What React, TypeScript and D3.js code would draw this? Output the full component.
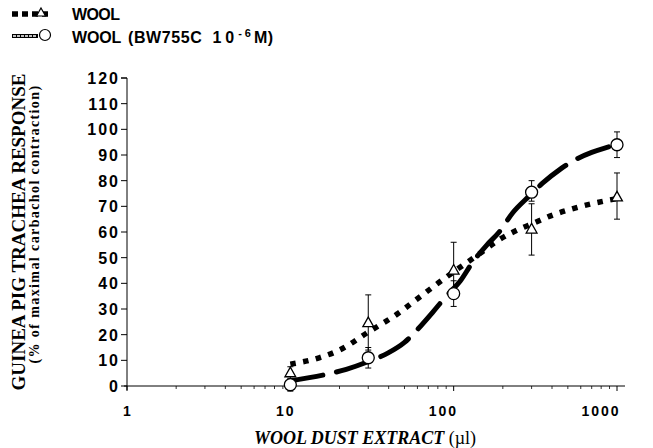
import React from "react";
import * as d3 from "d3";

const doses = [10, 30, 100, 300, 1000];
const woolMean = [5, 24.5, 45, 61, 73.5];
const woolHi = [7.5, 35.5, 56, 71, 83];
const woolLo = [1.5, 14, 35, 51, 65];
const bwMean = [0.5, 11, 36, 75.5, 94];
const bwHi = [3, 15, 41, 80, 99];
const bwLo = [-2, 7, 31, 72, 89];

// fitted curves
const woolFitX = [10, 15, 20, 30, 45, 60, 80, 100, 140, 190, 250, 310, 400, 530, 700, 1000];
const woolFitY = [8.5, 11, 14, 21, 28, 34, 40, 44.5, 51, 57, 61, 63.5, 66.5, 69, 71, 73];
const bwFitX = [10, 16, 22, 30, 40, 50, 60, 75, 90, 110, 130, 160, 190, 230, 290, 350, 450, 550, 700, 850, 1000];
const bwFitY = [2, 4.3, 6.5, 9.5, 13, 17, 22, 29, 35, 41, 48, 55, 60, 67.5, 74, 79, 84.5, 88, 91, 92.8, 94];

const yTicks = [0, 10, 20, 30, 40, 50, 60, 70, 80, 90, 100, 110, 120];
const xTicks = [1, 10, 100, 1000];

export default function App() {
  const W = 653, H = 448;
  const x = d3.scaleLog().domain([1, 1000]).range([127, 617]);
  // tick labels in the original sit on a slightly narrower spacing
  const xLab = d3.scaleLog().domain([1, 1000]).range([127, 600]);
  const y = d3.scaleLinear().domain([0, 120]).range([386, 78]);
  const line = d3.line<[number, number]>().x(d => x(d[0])).y(d => y(d[1])).curve(d3.curveMonotoneX);
  const woolPath = line(woolFitX.map((v, i) => [v, woolFitY[i]]) as [number, number][]) || "";
  const bwPath = line(bwFitX.map((v, i) => [v, bwFitY[i]]) as [number, number][]) || "";

  const minor: number[] = [];
  for (let d = 1; d <= 100; d *= 10) for (let k = 2; k <= 9; k++) minor.push(d * k);

  const tickFont = "'Liberation Sans', Arial, sans-serif";
  const serif = "'Liberation Serif', 'Times New Roman', serif";

  const triangle = (cx: number, cy: number, s = 6) =>
    `M${cx},${cy - s} L${cx + s * 0.9},${cy + s * 0.6} L${cx - s * 0.9},${cy + s * 0.6} Z`;

  const errBar = (xi: number, lo: number, hi: number, key: string) => (
    <g key={key} stroke="#000" strokeWidth={1}>
      <line x1={x(xi)} x2={x(xi)} y1={y(lo)} y2={y(hi)} />
      <line x1={x(xi) - 3} x2={x(xi) + 3} y1={y(lo)} y2={y(lo)} />
      <line x1={x(xi) - 3} x2={x(xi) + 3} y1={y(hi)} y2={y(hi)} />
    </g>
  );

  return (
    <svg width={W} height={H} style={{ position: "absolute", left: 0, top: 0, background: "#fff" }}>
      <rect width={W} height={H} fill="#fff" />
      {/* legend */}
      <g>
        <line x1={12} x2={52} y1={14} y2={14} stroke="#000" strokeWidth={5.5} strokeDasharray="6 4" />
        <path d={triangle(41, 13, 5)} fill="#fff" stroke="#000" strokeWidth={1.2} />
        <text x={72} y={20} fontFamily={tickFont} fontWeight="bold" fontSize={16} letterSpacing={-0.6}>WOOL</text>
        <line x1={12} x2={38} y1={36} y2={36} stroke="#000" strokeWidth={4} />
        <line x1={13} x2={37} y1={36} y2={36} stroke="#fff" strokeWidth={1.5} strokeDasharray="3 1" />
        <circle cx={45} cy={35} r={5.5} fill="#fff" stroke="#000" strokeWidth={1.2} />
        <text x={72} y={43} fontFamily={tickFont} fontWeight="bold" fontSize={16} letterSpacing={-0.2}>
          WOOL<tspan dx={7} letterSpacing={0.6}>(BW755C</tspan><tspan dx={10} letterSpacing={4}>10</tspan><tspan dy={-6} fontSize={11} letterSpacing={3}>-6</tspan><tspan dy={6} letterSpacing={0.5}>M)</tspan>
        </text>
      </g>

      {/* axes */}
      <line x1={127} x2={127} y1={78} y2={390} stroke="#000" strokeWidth={1} />
      <line x1={121} x2={127} y1={78} y2={78} stroke="#000" />
      <line x1={124} x2={625} y1={386} y2={386} stroke="#000" strokeWidth={1} />
      {yTicks.map(t => (
        <g key={"y" + t}>
          <line x1={121} x2={127} y1={y(t)} y2={y(t)} stroke="#000" />
          <text x={120} y={y(t) + 6} textAnchor="end" fontFamily={tickFont} fontWeight="bold" fontSize={16} letterSpacing={2}>{t}</text>
        </g>
      ))}
      {minor.map(t => (
        <line key={"m" + t} x1={x(t)} x2={x(t)} y1={386} y2={389} stroke="#000" strokeWidth={0.8} />
      ))}
      {xTicks.map(t => (
        <g key={"x" + t}>
          <line x1={x(t)} x2={x(t)} y1={386} y2={391} stroke="#000" />
          <text x={xLab(t) + 1} y={416} textAnchor="middle" fontFamily={tickFont} fontWeight="bold" fontSize={14} letterSpacing={2}>{t}</text>
        </g>
      ))}

      {/* axis titles */}
      <text transform="translate(25,232) rotate(-90)" textAnchor="middle" fontFamily={serif} fontWeight="bold" fontSize={19}>
        GUINEA PIG TRACHEA RESPONSE
      </text>
      <text transform="translate(39,224) rotate(-90)" textAnchor="middle" fontFamily={serif} fontWeight="bold" fontSize={14} letterSpacing={1.4}>
        (% of maximal carbachol contraction)
      </text>
      <text x={365} y={444} textAnchor="middle" fontFamily={serif} fontWeight="bold" fontSize={18}>
        <tspan fontStyle="italic">WOOL DUST EXTRACT</tspan> <tspan fontWeight="normal">(µl)</tspan>
      </text>

      {/* fit curves */}
      <path d={woolPath} fill="none" stroke="#000" strokeWidth={5.5} strokeDasharray="5.5 7.5" />
      <path d={bwPath} fill="none" stroke="#000" strokeWidth={5} strokeDasharray="33 14" strokeLinecap="round" />

      {/* error bars */}
      {doses.map((d, i) => errBar(d, woolLo[i], woolHi[i], "we" + i))}
      {doses.map((d, i) => errBar(d, bwLo[i], bwHi[i], "be" + i))}

      {/* markers */}
      {doses.map((d, i) => (
        <path key={"wt" + i} d={triangle(x(d), y(woolMean[i]), 6)} fill="#fff" stroke="#000" strokeWidth={1.3} />
      ))}
      {doses.map((d, i) => (
        <circle key={"bc" + i} cx={x(d)} cy={y(bwMean[i])} r={6} fill="#fff" stroke="#000" strokeWidth={1.3} />
      ))}
    </svg>
  );
}
